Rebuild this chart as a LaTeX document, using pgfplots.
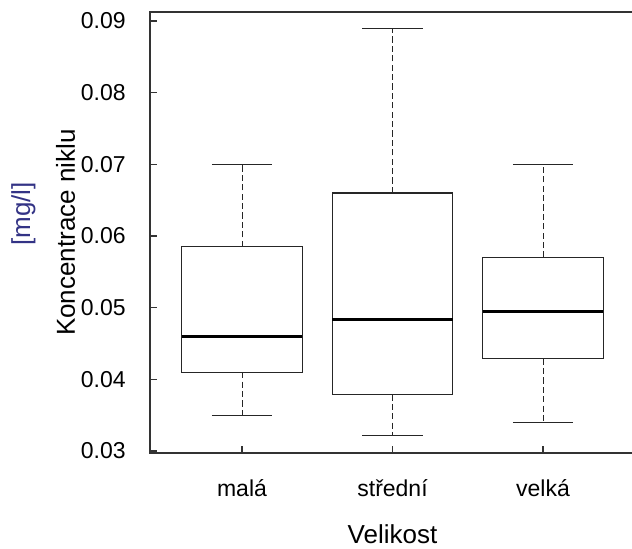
\documentclass[border=0pt]{standalone}
\usepackage{pgfplots}
\pgfplotsset{compat=1.18}
\usepgfplotslibrary{statistics}
\usepackage{fontspec}
\setmainfont{Liberation Sans}
\definecolor{labblue}{rgb}{0.20,0.20,0.52}
\pgfplotsset{
  boxplot/draw direction=y,
  boxplot/draw/median/.code={%
    \draw[draw=black,line width=1.6pt] (boxplot box cs:\pgfplotsboxplotvalue{median},0) -- (boxplot box cs:\pgfplotsboxplotvalue{median},1);},
  boxplot/draw/lower whisker/.code={%
    \draw[draw=black!85,line width=0.5pt,dash pattern=on 3.1pt off 1.6pt] (boxplot box cs:\pgfplotsboxplotvalue{lower quartile},0.5) -- (boxplot box cs:\pgfplotsboxplotvalue{lower whisker},0.5);
    \draw[draw=black!85,line width=0.5pt] (boxplot whisker cs:\pgfplotsboxplotvalue{lower whisker},0) -- (boxplot whisker cs:\pgfplotsboxplotvalue{lower whisker},1);},
  boxplot/draw/upper whisker/.code={%
    \draw[draw=black!85,line width=0.5pt,dash pattern=on 3.1pt off 1.6pt] (boxplot box cs:\pgfplotsboxplotvalue{upper quartile},0.5) -- (boxplot box cs:\pgfplotsboxplotvalue{upper whisker},0.5);
    \draw[draw=black!85,line width=0.5pt] (boxplot whisker cs:\pgfplotsboxplotvalue{upper whisker},0) -- (boxplot whisker cs:\pgfplotsboxplotvalue{upper whisker},1);},
}
\begin{document}
\begin{tikzpicture}
\useasboundingbox (0,0) rectangle (316pt,274pt);
\begin{axis}[
  at={(75pt,47.5pt)}, anchor=south west,
  scale only axis, width=242.5pt, height=220.5pt,
  xmin=0.3887, xmax=3.611, ymin=0.029721, ymax=0.091256,
  axis line style={line width=0.55pt, draw=black!80},
  tick align=inside, major tick length=3.5pt,
  tick style={line width=0.55pt, draw=black!80},
  xtick={1,2,3}, xticklabels={malá,střední,velká},
  xtick pos=bottom, ytick pos=left,
  ytick={0.03,0.04,0.05,0.06,0.07,0.08,0.09},
  yticklabels={0.03,0.04,0.05,0.06,0.07,0.08,0.09},
  scaled y ticks=false,
  ticklabel style={font=\fontsize{11.5}{13}\selectfont},
  xticklabel style={anchor=base, inner sep=0pt, yshift=-21.5pt},
  yticklabel style={anchor=east, inner sep=0pt, xshift=-12pt},
  xlabel={Velikost}, ylabel={Koncentrace niklu},
  every axis x label/.style={at={(axis description cs:0.5,0)}, anchor=base, yshift=-45pt, font=\fontsize{13}{15}\selectfont},
  every axis y label/.style={at={(axis description cs:0,0.5)}, xshift=-37.5pt, rotate=90, anchor=base, font=\fontsize{13}{15}\selectfont},
  boxplot/box extend=0.8, boxplot/whisker extend=0.4,
]
\addplot[draw=black!85, line width=0.55pt, boxplot prepared={draw position=1,
  lower whisker=0.035, lower quartile=0.041, median=0.046,
  upper quartile=0.0585, upper whisker=0.070}] coordinates {};
\addplot[draw=black!85, line width=0.55pt, boxplot prepared={draw position=2,
  lower whisker=0.0321, lower quartile=0.0379, median=0.0484,
  upper quartile=0.0660, upper whisker=0.0889}] coordinates {};
\addplot[draw=black!85, line width=0.55pt, boxplot prepared={draw position=3,
  lower whisker=0.0340, lower quartile=0.0429, median=0.0495,
  upper quartile=0.0570, upper whisker=0.0700}] coordinates {};
\end{axis}
\node[rotate=90, anchor=base, text=labblue, font=\fontsize{13}{15}\selectfont, inner sep=0pt] at (15pt,167pt) {[mg/l]};
\end{tikzpicture}
\end{document}
